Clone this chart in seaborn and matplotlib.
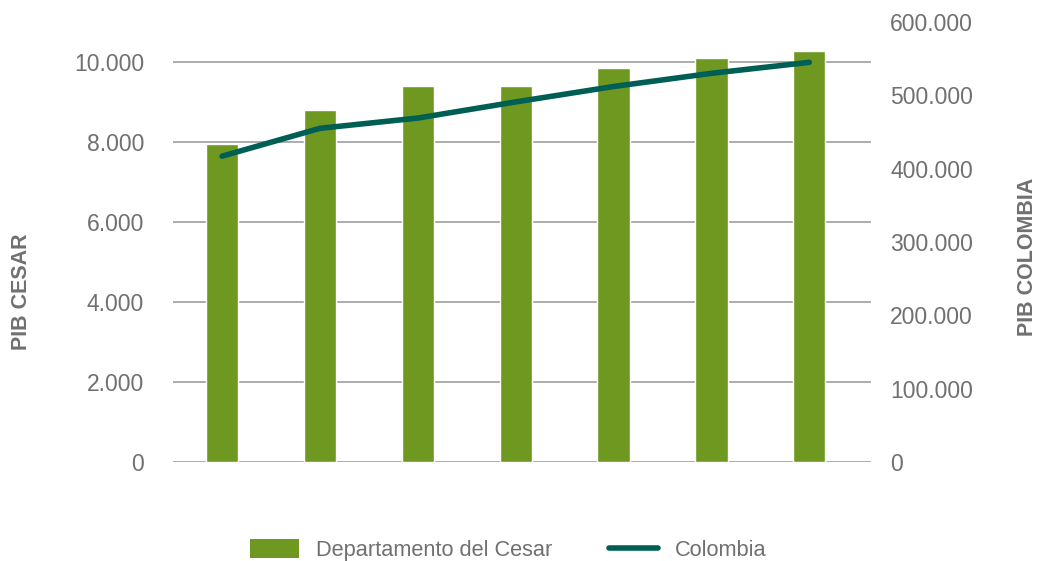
import numpy as np
import pandas as pd
import seaborn as sns
import matplotlib.pyplot as plt
from matplotlib.patches import Patch
from matplotlib.lines import Line2D
from matplotlib.ticker import FuncFormatter

sns.set_theme(style="white")
plt.rcParams['font.family'] = ['Liberation Sans', 'DejaVu Sans']

years = ["2010", "2011", "2012", "2013", "2014", "2015", "2016"]
pib_cesar = [7940, 8810, 9410, 9410, 9860, 10110, 10280]
pib_colombia = [417000, 455000, 469000, 491000, 512000, 530000, 545000]
left_ticks = [0, 2000, 4000, 6000, 8000, 10000]
right_ticks = [0, 100000, 200000, 300000, 400000, 500000, 600000]

bar_color = "#6f9820"
line_color = "#005f55"
text_color = "#707070"
grid_color = "#a6a6a6"

df = pd.DataFrame({"year": years, "cesar": pib_cesar, "colombia": pib_colombia})
df["pos"] = np.arange(len(df))

fig = plt.figure(figsize=(10.43, 5.61), dpi=100)
ax = fig.add_axes([0.166, 0.1765, 0.669, 0.7843])

sns.barplot(data=df, x="year", y="cesar", color=bar_color, saturation=1,
            width=0.33, ax=ax)
ax.set_ylim(0, 11000)
ax.set_xlim(-0.5, 6.63)
ax.set_yticks(left_ticks)
fmt = FuncFormatter(lambda v, p: f"{int(v):,}".replace(",", "."))
ax.yaxis.set_major_formatter(fmt)
ax.grid(axis="y", color=grid_color, linewidth=1.3)
ax.set_axisbelow(True)
ax.set_xticks([])
ax.set_xlabel("")
ax.set_ylabel("")
for s in ax.spines.values():
    s.set_visible(False)
ax.tick_params(axis="y", length=0, labelsize=16.5, labelcolor=text_color, pad=21)

ax2 = ax.twinx()
sns.lineplot(data=df, x="pos", y="colombia", color=line_color, linewidth=4,
             ax=ax2)
ax2.set_ylim(0, 600000)
ax2.set_yticks(right_ticks)
ax2.yaxis.set_major_formatter(fmt)
ax2.set_xlim(-0.5, 6.63)
ax2.set_ylabel("")
ax2.set_xlabel("")
for s in ax2.spines.values():
    s.set_visible(False)
ax2.tick_params(axis="y", length=0, labelsize=16.5, labelcolor=text_color, pad=14)
ax2.grid(False)

fig.text(0.021, 0.4795, "PIB CESAR", rotation=90, ha="center", va="center",
         fontsize=15.5, fontweight="bold", color=text_color)
fig.text(0.9856, 0.543, "PIB COLOMBIA", rotation=90, ha="center", va="center",
         fontsize=15.5, fontweight="bold", color=text_color)

handles = [Patch(facecolor=bar_color, edgecolor="none", label="Departamento del Cesar"),
           Line2D([0], [0], color=line_color, linewidth=4, label="Colombia")]
leg = fig.legend(handles=handles, loc="lower center", bbox_to_anchor=(0.487, -0.035),
                 ncol=2, frameon=False, fontsize=15.7, handlelength=2.25,
                 handleheight=0.9, columnspacing=2.6, handletextpad=0.78)
for t in leg.get_texts():
    t.set_color(text_color)

fig.savefig("out.png", dpi=100)
